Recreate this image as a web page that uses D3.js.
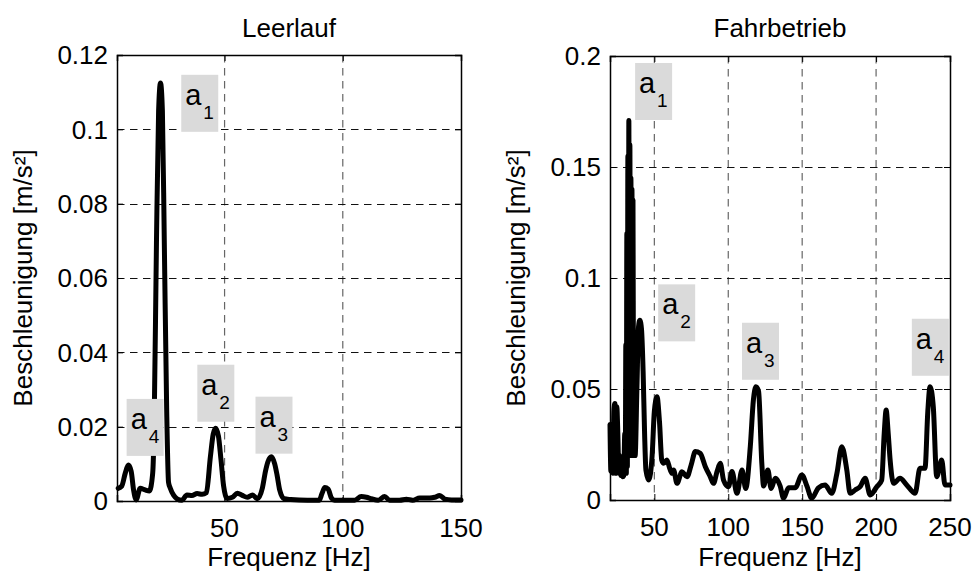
<!DOCTYPE html>
<html>
<head>
  <title>Leerlauf / Fahrbetrieb</title>
  <meta charset="utf-8">
  <script src="https://d3js.org/d3.v7.min.js"></script>
  <style>
    body { margin: 0; background: #fff; }
    text { font-family: "Liberation Sans", Arial, sans-serif; fill: #000; }
  </style>
</head>
<body>
  <svg id="chart" width="977" height="578"></svg>

  <script>
    // Leerlauf spectrum (frequency in Hz, acceleration in m/s²)
    const leerFreq = [5, 6.5, 8, 9.3, 10.5, 11.5, 12.6, 14.3, 16.4, 18.2, 19.6, 20.2, 21.2, 22.1, 22.9, 23.7, 24.5, 25.5, 26.3,
      27, 28.5, 29.9, 31.9, 34.1, 36.2, 38.4, 40.5, 42.3, 44, 45.2, 46.2, 47.4, 48.5, 49.6, 51.1, 53.3, 55.4, 57.5, 59.6,
      61.8, 63.9, 66, 67.3, 68.3, 69.8, 71.2, 72.2, 73.3, 75.2, 78, 85, 90, 91.2, 92.4, 93.8, 95.2, 96.5, 100, 105, 107.8,
      110, 112.1, 115, 117.7, 119.8, 124, 126.9, 129.5, 132.5, 136.8, 138.9, 141, 143.2, 146, 150];
    const leerValues = [0.0034, 0.004, 0.0075, 0.0097, 0.008, 0.003, 0.0003, 0.0034, 0.003, 0.0027, 0.0075, 0.02, 0.07, 0.105, 0.1125, 0.105, 0.07, 0.025, 0.005,
      0.0035, 0.0015, 0.0006, 0.0002, 0.0016, 0.0015, 0.002, 0.0018, 0.0022, 0.0119, 0.018, 0.0196, 0.0175, 0.011, 0.004, 0.0007, 0.001, 0.0021, 0.0015, 0.001,
      0.0016, 0.0006, 0.0035, 0.008, 0.0105, 0.0119, 0.01, 0.007, 0.003, 0.0006, 0.0004, 0.0002, 0.0002, 0.002, 0.0036, 0.0032, 0.0008, 0.0002, 0.0002, 0.0002, 0.0012,
      0.001, 0.0006, 0.0002, 0.0012, 0.0002, 0.0002, 0.0005, 0.0002, 0.0008, 0.0008, 0.001, 0.0015, 0.0005, 0.0003, 0.0003];

    // Fahrbetrieb spectrum (dense oscillation around the a1 peak)
    const fahrFreq = [20, 20.6, 21.2, 22, 22.6, 23.3, 24, 24.6, 25.3, 26, 26.6, 27.3, 28, 28.6, 29.3,
      30, 30.35, 30.7, 31.05, 31.4, 31.75, 32.1, 32.45, 32.75, 33.1, 33.45, 33.8, 34.15, 34.5, 34.85, 35.2, 35.55, 35.85, 36.1,
      37, 38.2, 39.3,
      40.2, 41.3, 42.4, 43.4, 44.3, 46.2, 48.5, 50, 51.8, 53.5, 55, 56.3, 58.5, 60.5, 62, 63, 65.3, 68.7, 72.1, 75, 77.7, 81,
      84.5, 87.8, 90, 92.5, 94.6, 96.8, 100.2, 102.5, 105.9, 109.3, 111.8, 114.9, 117, 118.7, 120.5, 122.7, 123.9, 126.8, 129,
      131.8, 135.1, 137.4, 140.8, 145.3, 149.8, 153.2, 156.5, 161, 165.5, 170, 173.5, 176.8, 180.2, 182.4, 185.8, 189.2, 192.6,
      196, 200.5, 203.8, 205.5, 206.8, 208.2, 209.5, 211.8, 216.2, 220.7, 226.4, 229.7, 233.1, 235, 236.5, 238.7, 241, 244.4,
      246.6, 250];
    const fahrValues = [0.034, 0.013, 0.03, 0.012, 0.04, 0.0435, 0.012, 0.042, 0.03, 0.012, 0.02, 0.011, 0.013, 0.0105, 0.011,
      0.03, 0.012, 0.07, 0.012, 0.12, 0.015, 0.155, 0.02, 0.171, 0.02, 0.16, 0.025, 0.145, 0.02, 0.14, 0.02, 0.135, 0.05, 0.021,
      0.02, 0.05, 0.078,
      0.081, 0.077, 0.058, 0.03, 0.0135, 0.009, 0.02, 0.04, 0.0465, 0.035, 0.018, 0.0165, 0.018, 0.014, 0.012, 0.0135, 0.0075, 0.0127, 0.0105, 0.016, 0.0218, 0.021,
      0.015, 0.0105, 0.0075, 0.013, 0.0165, 0.009, 0.006, 0.0128, 0.003, 0.0135, 0.0052, 0.024, 0.045, 0.051, 0.049, 0.0165, 0.0063, 0.0135, 0.0052,
      0.0098, 0.0063, 0.0008, 0.0055, 0.0055, 0.0113, 0.0063, 0.0008, 0.0055, 0.0068, 0.003, 0.012, 0.024, 0.0135, 0.003, 0.0045, 0.006, 0.0098,
      0.0023, 0.006, 0.009, 0.03, 0.0405, 0.03, 0.018, 0.0075, 0.0098, 0.0068, 0.003, 0.0143, 0.0143, 0.04, 0.051, 0.042, 0.0105, 0.018,
      0.0068, 0.0068];

    // Tick values and labels
    const leerXTicks = [50, 100, 150];
    const leerYTicks = [0, 0.02, 0.04, 0.06, 0.08, 0.1, 0.12];
    const leerYLabels = ["0", "0.02", "0.04", "0.06", "0.08", "0.1", "0.12"];
    const fahrXTicks = [50, 100, 150, 200, 250];
    const fahrYTicks = [0, 0.05, 0.1, 0.15, 0.2];
    const fahrYLabels = ["0", "0.05", "0.1", "0.15", "0.2"];

    // Peak annotations (label, subscript, position in data units)
    const leerNotes = [
      { sub: "1", f: 39.5, a: 0.107 },
      { sub: "2", f: 46.3, a: 0.029 },
      { sub: "3", f: 70.9, a: 0.0204 },
      { sub: "4", f: 16.4, a: 0.0198 }
    ];
    const fahrNotes = [
      { sub: "1", f: 49.5, a: 0.184 },
      { sub: "2", f: 65.1, a: 0.0843 },
      { sub: "3", f: 121.8, a: 0.067 },
      { sub: "4", f: 236.7, a: 0.0688 }
    ];

    const svg = d3.select("#chart");
    svg.append("rect").attr("width", 977).attr("height", 578).attr("fill", "#fff");

    function drawPanel(opt) {
      const { left, right, top, bottom } = opt.box;
      const x = d3.scaleLinear().domain(opt.xDomain).range([left, right]);
      const y = d3.scaleLinear().domain(opt.yDomain).range([bottom, top]);
      const g = svg.append("g");

      // Gitter (gestrichelt)
      g.selectAll(".vgrid")
        .data(opt.xTicks.filter((t) => x(t) < right - 1))
        .enter()
        .append("line")
        .attr("x1", (d) => x(d)).attr("x2", (d) => x(d))
        .attr("y1", top).attr("y2", bottom)
        .attr("stroke", "#666").attr("stroke-width", 1.2)
        .attr("stroke-dasharray", "7.5,5.5");
      g.selectAll(".hgrid")
        .data(opt.yTicks.filter((t) => y(t) > top + 1 && y(t) < bottom - 1))
        .enter()
        .append("line")
        .attr("x1", left).attr("x2", right)
        .attr("y1", (d) => Math.round(y(d)) + 0.5).attr("y2", (d) => Math.round(y(d)) + 0.5)
        .attr("stroke", "#111").attr("stroke-width", 1)
        .attr("stroke-dasharray", "7.5,5.5");

      // Achsen mit nach innen zeigenden Ticks
      const xAxis = d3.axisBottom(x).tickValues(opt.xTicks).tickSize(-6).tickFormat("");
      const xAxisTop = d3.axisTop(x).tickValues(opt.xTicks).tickSize(-6).tickFormat("");
      const yAxis = d3.axisLeft(y).tickValues(opt.yTicks).tickSize(-6).tickFormat("");
      const yAxisRight = d3.axisRight(y).tickValues(opt.yTicks).tickSize(-6).tickFormat("");
      [
        [xAxis, `translate(0,${bottom})`],
        [xAxisTop, `translate(0,${top})`],
        [yAxis, `translate(${left},0)`],
        [yAxisRight, `translate(${right},0)`]
      ].forEach(([ax, tr]) => {
        const a = g.append("g").attr("transform", tr).call(ax);
        a.select(".domain").attr("stroke", "#000").attr("stroke-width", 1.5);
        a.selectAll(".tick line").attr("stroke", "#000");
      });

      // Tick-Beschriftungen
      g.selectAll(".xlab")
        .data(opt.xTicks)
        .enter()
        .append("text")
        .attr("x", (d) => x(d))
        .attr("y", bottom + 36)
        .attr("text-anchor", "middle")
        .style("font-size", "26px")
        .text((d) => d);
      g.selectAll(".ylab")
        .data(opt.yTicks)
        .enter()
        .append("text")
        .attr("x", left - 9)
        .attr("y", (d) => y(d))
        .attr("dy", "0.36em")
        .attr("text-anchor", "end")
        .style("font-size", "26px")
        .text((d, i) => opt.yLabels[i]);

      // Spektrum
      const line = d3.line()
        .x((d) => x(d[0]))
        .y((d) => y(d[1]))
        .curve(d3.curveMonotoneX);
      g.append("path")
        .datum(d3.zip(opt.freq, opt.values))
        .attr("d", line)
        .attr("fill", "none")
        .attr("stroke", "#000")
        .attr("stroke-width", 5)
        .attr("stroke-linejoin", "round")
        .attr("stroke-linecap", "round");

      // Peak-Beschriftungen mit grauem Hintergrund
      const notes = g.selectAll(".note")
        .data(opt.notes)
        .enter()
        .append("g")
        .attr("transform", (d) => `translate(${x(d.f) - 18.5},${y(d.a) - 28.5})`);
      notes.append("rect")
        .attr("width", 37).attr("height", 57)
        .attr("fill", "#dadada");
      notes.append("text")
        .attr("x", 4).attr("y", 30)
        .style("font-size", "29px")
        .text("a");
      notes.append("text")
        .attr("x", 22).attr("y", 44)
        .style("font-size", "19px")
        .text((d) => d.sub);

      // Titel und Achsenbeschriftungen
      const cx = (left + right) / 2;
      svg.append("text")
        .attr("x", cx).attr("y", 37)
        .attr("text-anchor", "middle")
        .style("font-size", "26px")
        .text(opt.title);
      svg.append("text")
        .attr("x", cx).attr("y", 566)
        .attr("text-anchor", "middle")
        .style("font-size", "26px")
        .text("Frequenz [Hz]");
      svg.append("text")
        .attr("transform", `translate(${opt.yLabelX},${(top + bottom) / 2}) rotate(-90)`)
        .attr("text-anchor", "middle")
        .style("font-size", "26px")
        .text("Beschleunigung [m/s²]");
    }

    drawPanel({
      title: "Leerlauf",
      box: { left: 117, right: 461, top: 55, bottom: 501 },
      xDomain: [4.5, 150], yDomain: [0, 0.12],
      xTicks: leerXTicks, yTicks: leerYTicks, yLabels: leerYLabels,
      freq: leerFreq, values: leerValues, notes: leerNotes,
      yLabelX: 32
    });

    drawPanel({
      title: "Fahrbetrieb",
      box: { left: 610, right: 950, top: 56, bottom: 500 },
      xDomain: [20, 250], yDomain: [0, 0.2],
      xTicks: fahrXTicks, yTicks: fahrYTicks, yLabels: fahrYLabels,
      freq: fahrFreq, values: fahrValues, notes: fahrNotes,
      yLabelX: 525
    });
  </script>
</body>
</html>
